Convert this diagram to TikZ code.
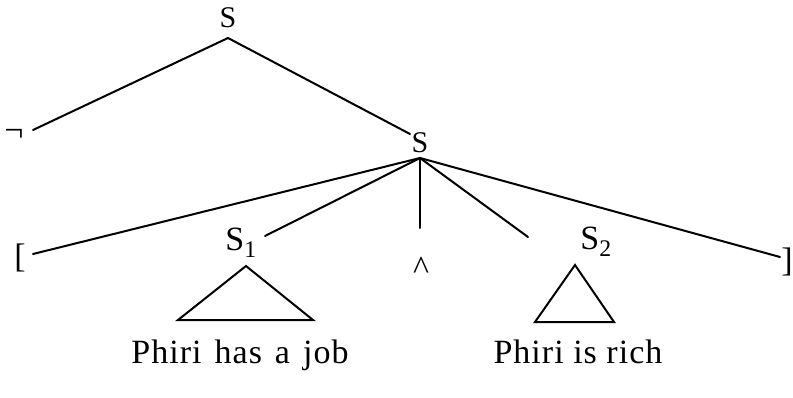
\documentclass[tikz,border=0pt]{standalone}
\usepackage{fontspec}
\setmainfont{Liberation Serif}
\begin{document}
\begin{tikzpicture}[x=1pt,y=-1pt,
  edge/.style={line width=2pt, line cap=round},
  tri/.style={line width=2pt, line join=miter},
  lab/.style={inner sep=0pt, font=\fontsize{30}{34}\selectfont},
  biglab/.style={inner sep=0pt, font=\fontsize{34}{40}\selectfont},
  leaf/.style={inner sep=0pt, font=\fontsize{34}{40}\selectfont\addfontfeature{LetterSpace=3}}]
\useasboundingbox (0,0) rectangle (793,398);
% labels
\node[lab] (Stop) at (228,18) {S};
\node[lab] (Smid) at (420,143) {S};
\node[biglab] (neg) at (14,135) {¬};
\node[biglab] (lbr) at (20,258) {[};
\node[biglab] (S1) at (241,243) {S\textsubscript{1}};
\node[biglab] (and) at (421,268) {\textasciicircum};
\node[biglab] (S2) at (596,242) {S\textsubscript{2}};
\node[biglab, anchor=east] (rbr) at (793,262) {]};
% connector ends
\coordinate (aTop) at (228,38);
\coordinate (eNeg) at (33,130);
\coordinate (eMid) at (410,134);
\coordinate (aMid) at (420,158);
\coordinate (eL) at (33,254);
\coordinate (eS1) at (265,236);
\coordinate (eAnd) at (420,228);
\coordinate (eS2) at (528,237);
\coordinate (eR) at (780,257);
\draw[edge] (eNeg) -- (aTop) -- (eMid);
\draw[edge] (aMid) -- (eL);
\draw[edge] (aMid) -- (eS1);
\draw[edge] (aMid) -- (eAnd);
\draw[edge] (aMid) -- (eS2);
\draw[edge] (aMid) -- (eR);
% triangles
\coordinate (t1a) at (246,266);
\coordinate (t1l) at (178,320);
\coordinate (t1r) at (313,320);
\coordinate (t2a) at (575,265);
\coordinate (t2l) at (535,322);
\coordinate (t2r) at (614,322);
\draw[tri] (t1a) -- (t1l) -- (t1r) -- cycle;
\draw[tri] (t2a) -- (t2l) -- (t2r) -- cycle;
\node[leaf, anchor=base] (leaf1) at (240,363) {Phiri\hspace{13pt}has\hspace{13pt}a\hspace{13pt}job};
\node[leaf, anchor=base] (leaf2) at (578,363) {Phiri is rich};
\end{tikzpicture}
\end{document}
